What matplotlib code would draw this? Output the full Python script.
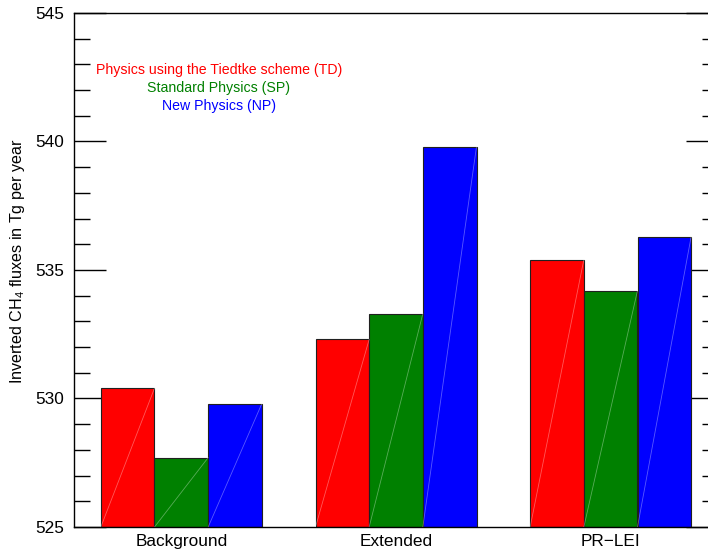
import numpy as np
import matplotlib
matplotlib.use("Agg")
from matplotlib import pyplot as plt
from matplotlib.ticker import MultipleLocator

plt.rcParams['font.family'] = ['Liberation Sans', 'DejaVu Sans']
plt.rcParams['mathtext.fontset'] = 'custom'
plt.rcParams['mathtext.rm'] = 'Liberation Sans'
plt.rcParams['mathtext.default'] = 'regular'

# inverted fluxes per inversion setup (Tg/yr)
groups = ['Background', 'Extended', 'PR\u2212LEI']
td_flux = [530.4, 532.3, 535.4]
sp_flux = [527.7, 533.3, 534.2]
np_flux = [529.8, 539.8, 536.3]
series_names = ['Physics using the Tiedtke scheme (TD)',
                'Standard Physics (SP)',
                'New Physics (NP)']
series_colors = ['#ff0000', '#008000', '#0000ff']

ybase = 525

fig = plt.figure(figsize=(7.08, 5.52), dpi=100)
ax = fig.add_axes([74/708, 25/552, 644/708, 514/552])

centers = np.arange(len(groups)) * 4
for j, (vals, col) in enumerate(zip([td_flux, sp_flux, np_flux], series_colors)):
    xs = centers + (j - 1)
    heights = np.array(vals) - ybase
    ax.bar(xs, heights, width=1.0, bottom=ybase, color=col,
           edgecolor='#202020', linewidth=0.8, zorder=2)
    # faint diagonal across each bar
    for x, v in zip(xs, vals):
        ax.plot([x - 0.5, x + 0.5], [ybase, v], color='white',
                alpha=0.35, lw=0.6, zorder=3)

ax.set_xlim(-2, 10)
ax.set_ylim(525, 545)
ax.set_xticks(centers)
ax.set_xticklabels(groups, fontsize=12.4)
ax.tick_params(axis='x', length=0, pad=5)

ax.yaxis.set_major_locator(MultipleLocator(5))
ax.yaxis.set_minor_locator(MultipleLocator(1))
ax.tick_params(axis='y', which='both', direction='in', left=True, right=True,
               width=1.0, color='black', labelsize=12.4, pad=7)
ax.tick_params(axis='y', which='major', length=23)
ax.tick_params(axis='y', which='minor', length=11.5)

for s in ['left', 'top', 'bottom', 'right']:
    ax.spines[s].set_linewidth(1.0)

fig.text(18/708, 1 - 261/552, 'Inverted CH$_4$ fluxes in Tg per year',
         rotation=90, ha='center', va='center', fontsize=11.6)

for name, col, y in zip(series_names, series_colors, [542.78, 542.1, 541.4]):
    ax.text(0.7, y, name, color=col, ha='center', va='center', fontsize=10.2)

fig.savefig('out.png', dpi=100)
